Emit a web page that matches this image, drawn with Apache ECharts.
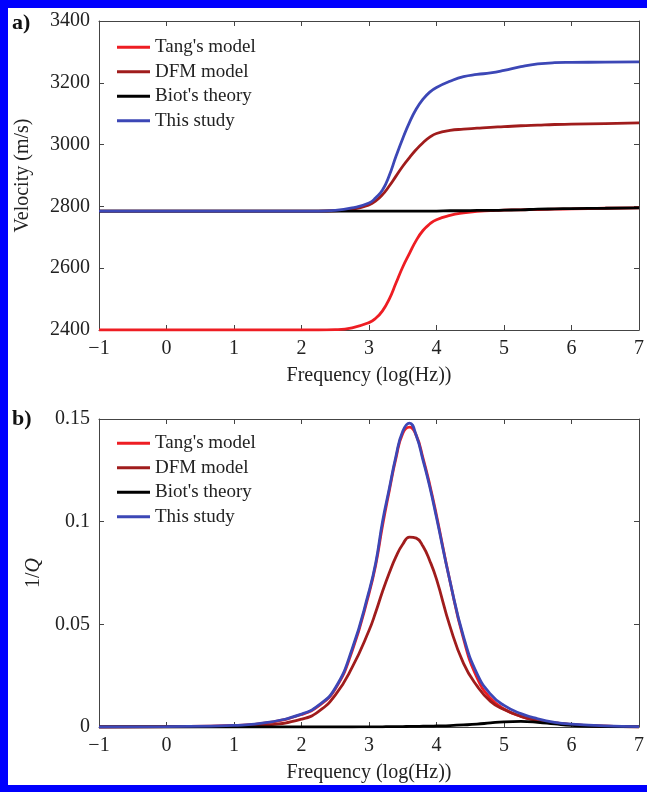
<!DOCTYPE html>
<html>
<head>
<meta charset="utf-8">
<script src="https://cdn.jsdelivr.net/npm/echarts@6/dist/echarts.min.js"></script>
<style>
html,body{margin:0;padding:0;background:#fff;}
#main{width:647px;height:792px;}
</style>
</head>
<body>
<div id="main"></div>
<script>
// Frequency samples (log10 Hz)
var freq = [-1, 0, 1, 1.5, 2, 2.25, 2.5, 2.75, 3, 3.1, 3.2, 3.3, 3.4, 3.5, 3.6, 3.7, 3.8, 3.9, 4, 4.2, 4.4, 4.6, 4.8, 5, 5.25, 5.5, 5.75, 6, 6.5, 7];
var seriesNames = ["Tang's model", "DFM model", "Biot's theory", "This study"];
var xTicks = [-1, 0, 1, 2, 3, 4, 5, 6, 7];
var velTicks = [2400, 2600, 2800, 3000, 3200, 3400];
var qTicks = [0, 0.05, 0.1, 0.15];

// Panel a) Velocity (m/s)
var velTang  = [2400, 2400, 2400, 2400, 2400, 2400, 2401, 2407, 2424, 2438, 2462, 2500, 2552, 2604, 2648, 2690, 2722, 2743, 2757, 2771, 2779, 2784, 2786, 2788, 2789, 2790, 2791, 2792, 2794, 2795];
var velDFM   = [2785, 2785, 2785, 2785, 2785, 2785, 2786, 2790, 2805, 2818, 2838, 2866, 2898, 2930, 2958, 2984, 3006, 3024, 3036, 3046, 3050, 3053, 3056, 3058, 3061, 3063, 3065, 3066, 3068, 3070];
var velBiot  = [2785, 2785, 2785, 2785, 2785, 2785, 2785, 2785, 2785, 2785, 2785, 2785, 2785, 2785, 2785, 2785, 2785, 2785, 2785, 2786, 2786, 2787, 2787, 2788, 2789, 2791, 2792, 2793, 2794, 2795];
var velThis  = [2785, 2785, 2785, 2785, 2785, 2785, 2787, 2795, 2811, 2828, 2853, 2900, 2962, 3020, 3072, 3115, 3147, 3170, 3185, 3205, 3220, 3227, 3232, 3240, 3252, 3261, 3265, 3266, 3267, 3268];

// Panel b) 1/Q
var qTang  = [0, 0.0002, 0.0008, 0.0021, 0.0061, 0.0102, 0.0185, 0.037, 0.065, 0.079, 0.098, 0.115, 0.131, 0.143, 0.146, 0.142, 0.131, 0.118, 0.103, 0.071, 0.043, 0.024, 0.014, 0.0088, 0.0052, 0.0032, 0.002, 0.0012, 0.0004, 0.0001];
var qDFM   = [0, 0.0001, 0.0003, 0.001, 0.0038, 0.0075, 0.0155, 0.029, 0.047, 0.056, 0.066, 0.075, 0.083, 0.089, 0.0925, 0.092, 0.088, 0.081, 0.072, 0.049, 0.031, 0.020, 0.0125, 0.0085, 0.0052, 0.0032, 0.002, 0.0012, 0.0004, 0.0001];
var qBiot  = [0, 0, 0, 0, 0, 0, 0, 0, 0.0001, 0.0001, 0.0001, 0.0002, 0.0002, 0.0002, 0.0003, 0.0003, 0.0004, 0.0004, 0.0005, 0.0007, 0.001, 0.0014, 0.002, 0.0025, 0.0027, 0.0023, 0.0015, 0.0008, 0.0002, 0.0001];
var qThis  = [0, 0.0002, 0.0008, 0.0022, 0.0063, 0.0105, 0.019, 0.038, 0.066, 0.080, 0.100, 0.116, 0.132, 0.144, 0.148, 0.142, 0.130, 0.117, 0.102, 0.071, 0.044, 0.026, 0.016, 0.0105, 0.0065, 0.004, 0.0023, 0.0014, 0.0005, 0.0002];

var colors = ['#ee1d23', '#a01c1c', '#000000', '#3c47b6'];
var FONT = '"Liberation Serif", "DejaVu Serif", serif';

function pair(ys){ return freq.map(function(x,i){ return [x, ys[i]]; }); }

var axisLineStyle = {color:'#444', width:1};
function xAx(grid, pos){
  return {
    type:'value', gridIndex:grid, position:pos, min:-1, max:7, interval:1,
    axisLine:{show:true, onZero:false, lineStyle:axisLineStyle},
    axisTick:{show:true, inside:true, length:5, lineStyle:axisLineStyle},
    axisLabel:{show: pos==='bottom', margin:9, fontFamily:FONT, fontSize:20, color:'#222',
      formatter:function(v){ return v<0 ? '\u2212'+(-v) : String(v); }},
    splitLine:{show:false},
    name: pos==='bottom' ? 'Frequency (log(Hz))' : '',
    nameLocation:'middle', nameGap:36,
    nameTextStyle:{fontFamily:FONT, fontSize:20, color:'#222'}
  };
}
function yAx(grid, pos, min, max, interval, name, gap, rich){
  return {
    type:'value', gridIndex:grid, position:pos, min:min, max:max, interval:interval,
    axisLine:{show:true, onZero:false, lineStyle:axisLineStyle},
    axisTick:{show:true, inside:true, length:5, lineStyle:axisLineStyle},
    axisLabel:{show: pos==='left', margin:9, fontFamily:FONT, fontSize:20, color:'#222',
      formatter:function(v){ return String(+v.toFixed(4)); }},
    splitLine:{show:false},
    name: pos==='left' ? name : '',
    nameLocation:'middle', nameGap:gap,
    nameTextStyle:{fontFamily:FONT, fontSize:20, color:'#222', rich:rich}
  };
}

var series = [];
var velData = [velTang, velDFM, velBiot, velThis];
var qData = [qTang, qDFM, qBiot, qThis];
for (var i=0;i<4;i++){
  series.push({name:seriesNames[i], type:'line', xAxisIndex:0, yAxisIndex:0, data:pair(velData[i]),
    showSymbol:false, smooth:0.5, lineStyle:{width:2.8, color:colors[i]}, itemStyle:{color:colors[i]}, z:2+i});
  series.push({name:seriesNames[i], type:'line', xAxisIndex:2, yAxisIndex:2, data:pair(qData[i]),
    showSymbol:false, smooth:0.5, lineStyle:{width:2.8, color:colors[i]}, itemStyle:{color:colors[i]}, z:2+i});
}

function legend(top){
  return {
    data:seriesNames, orient:'vertical', left:112, top:top, itemWidth:33, itemHeight:3, itemGap:0,
    icon:'rect', selectedMode:false,
    textStyle:{fontFamily:FONT, fontSize:19, color:'#222', lineHeight:24.5}
  };
}

var chart = echarts.init(document.getElementById('main'), null, {renderer:'canvas'});
chart.setOption({
  animation:false,
  backgroundColor:'#fff',
  grid:[
    {left:99, right:3, top:21, height:309},
    {left:99, right:3, top:419, height:308}
  ],
  xAxis:[xAx(0,'bottom'), xAx(0,'top'), xAx(1,'bottom'), xAx(1,'top')],
  yAxis:[
    yAx(0,'left',2400,3400,200,'Velocity (m/s)',66),
    yAx(0,'right',2400,3400,200,'',66),
    yAx(1,'left',0,0.15,0.05,'1/{i|Q}',52,{i:{fontFamily:FONT, fontSize:20, fontStyle:'italic', color:'#222'}}),
    yAx(1,'right',0,0.15,0.05,'',52)
  ],
  legend:[legend(30), legend(426)],
  series:series,
  graphic:[
    {type:'rect', shape:{x:0,y:0,width:647,height:8}, style:{fill:'#0000fe'}, silent:true},
    {type:'rect', shape:{x:0,y:0,width:8,height:792}, style:{fill:'#0000fe'}, silent:true},
    {type:'rect', shape:{x:0,y:785,width:647,height:7}, style:{fill:'#0000fe'}, silent:true},
    {type:'text', left:12, top:12, style:{text:'a)', font:'bold 22px "Liberation Serif", serif', fill:'#111'}},
    {type:'text', left:12, top:408, style:{text:'b)', font:'bold 22px "Liberation Serif", serif', fill:'#111'}}
  ]
});
</script>
</body>
</html>
